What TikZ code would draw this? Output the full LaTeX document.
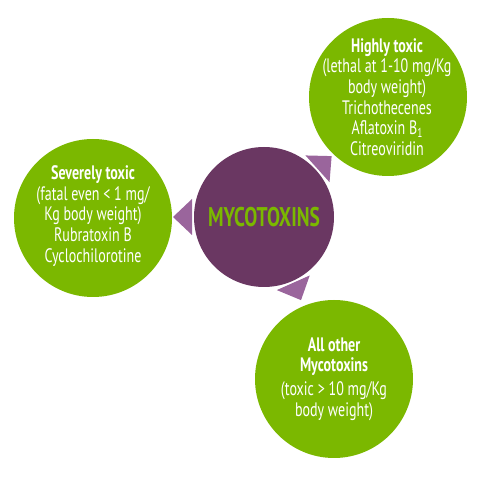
\documentclass[tikz,border=0pt]{standalone}
\usepackage{fontspec}
\setmainfont{PT Sans}[FakeStretch=0.72]
\usetikzlibrary{calc,positioning}
\definecolor{toxgreen}{HTML}{7BB800}
\definecolor{mycopurple}{HTML}{6A3762}
\definecolor{tippurple}{HTML}{9A659C}
\tikzset{
  hub/.style={circle, fill=mycopurple, minimum size=140pt, inner sep=0pt},
  group/.style={circle, fill=toxgreen, minimum size=158pt, inner sep=0pt},
  grouptext/.style={align=center, text=white, inner sep=0pt,
    font=\fontsize{19.5}{20.6}\selectfont},
  hubtext/.style={text=toxgreen, inner sep=0pt,
    font=\fontsize{27}{30}\selectfont\bfseries},
  tip/.style={fill=tippurple},
}
\begin{document}
\begin{tikzpicture}[x=1pt,y=1pt]
  \useasboundingbox (0,0) rectangle (480,480);
  % circles
  \node[hub] (myco) at (264,263) {};
  \node[group] (high) at (388,383) {};
  \node[group] (severe) at (93,262) {};
  \node[group] (other) at (334,101) {};
  % arrow heads pointing at the groups
  \foreach \a in {42,180,-66} {
    \fill[tip] ($(myco.center)+(\a:91)$) -- ($(myco.center)+(\a:72)+(\a+90:18)$)
      -- ($(myco.center)+(\a:72)+(\a-90:18)$) -- cycle;
  }
  % texts
  \node[hubtext] (mycolab) at (myco.center) {MYCOTOXINS};
  \node[grouptext] (highlab) at ([xshift=-1pt]high.center)
    {\textbf{Highly toxic}\\(lethal at 1-10 mg/Kg\\body weight)\\Trichothecenes\\Aflatoxin B\raisebox{-3pt}{\fontsize{13}{13}\selectfont 1}\\Citreoviridin};
  \node[grouptext] (severelab) at ([yshift=2pt]severe.center)
    {\textbf{Severely toxic}\\(fatal even < 1 mg/\\Kg body weight)\\Rubratoxin B\\Cyclochilorotine};
  \node[grouptext] (otherlab) at (other.center)
    {\textbf{All other}\\\textbf{Mycotoxins}\\[3pt](toxic > 10 mg/Kg\\body weight)};
\end{tikzpicture}
\end{document}
